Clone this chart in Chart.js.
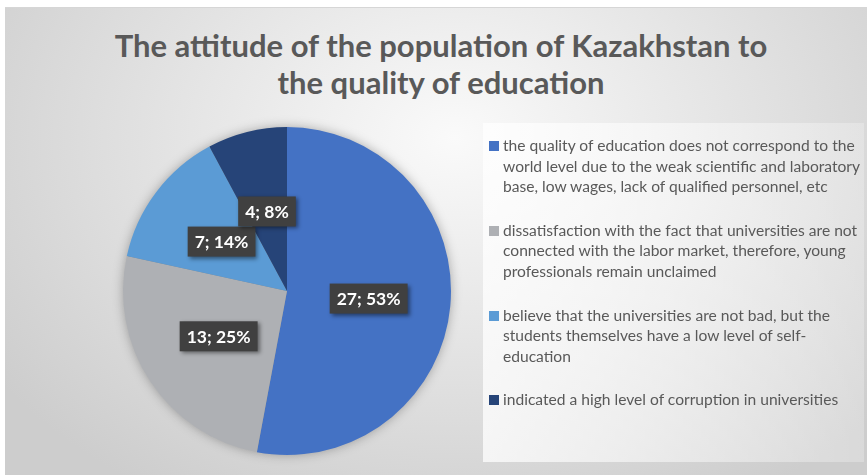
<!DOCTYPE html>
<html lang="en">
<head>
<meta charset="UTF-8">
<title>The attitude of the population of Kazakhstan to the quality of education</title>
<style>
    * { margin: 0; padding: 0; box-sizing: border-box; }
    body { width: 867px; height: 475px; background: #fff; overflow: hidden; font-family: 'Lato', sans-serif; }

    .frame {
        position: absolute; left: 5px; top: 7px; width: 862px; height: 468px;
        background: radial-gradient(ellipse 560px 420px at 450px 130px, #fafafa 0%, #e6e6e6 45%, #cdcdcd 100%);
        border-top: 1px solid #d6d6d6;
    }

    .title {
        position: absolute; left: 0; width: 882px; top: 27px;
        text-align: center; color: #595959;
        font-size: 31px; font-weight: bold; line-height: 37px;
    }

    .legend-box {
        position: absolute; left: 483px; top: 123px; width: 381px; height: 339px;
        background: linear-gradient(90deg, rgba(255,255,255,0.75), rgba(255,255,255,0.25));
    }

    .legend { position: absolute; left: 489px; top: 135px; }
    .legend .item { position: relative; padding-left: 14px; margin-bottom: 23px; }
    .legend .swatch { position: absolute; left: 0; top: 6px; width: 10px; height: 10px; }
    .legend .text { color: #595959; font-size: 15.6px; line-height: 20.6px; white-space: nowrap; }

    #chartWrap { position: absolute; left: 0; top: 0; width: 867px; height: 475px; }
</style>
</head>
<body>

<div class="frame"></div>
<div class="title">The attitude of the population of Kazakhstan to<br>the quality of education</div>
<div class="legend-box"></div>
<div id="chartWrap"><canvas id="pieChart"></canvas></div>
<div class="legend" id="legend"></div>

<script src="https://cdn.jsdelivr.net/npm/chart.js"></script>
<script>
    // categories (one entry per line of the legend text)
    const categories = [
        ['the quality of education does not correspond to the',
         'world level due to the weak scientific and laboratory',
         'base, low wages, lack of qualified personnel, etc'],
        ['dissatisfaction with the fact that universities are not',
         'connected with the labor market, therefore, young',
         'professionals remain unclaimed'],
        ['believe that the universities are not bad, but the',
         'students themselves have a low level of self-',
         'education'],
        ['indicated a high level of corruption in universities']
    ];
    const responses = [27, 13, 7, 4];
    const sliceColors = ['#4472C4', '#AEB0B4', '#5B9BD5', '#264478'];

    // legend on the right
    const legendEl = document.getElementById('legend');
    categories.forEach(function (lines, i) {
        const item = document.createElement('div');
        item.className = 'item';
        item.innerHTML = '<span class="swatch" style="background:' + sliceColors[i] + '"></span>' +
            '<div class="text">' + lines.join('<br>') + '</div>';
        legendEl.appendChild(item);
    });

    // soft shadow behind the pie
    const pieShadow = {
        id: 'pieShadow',
        beforeDatasetsDraw(chart) {
            const arc = chart.getDatasetMeta(0).data[0];
            if (!arc) return;
            const ctx = chart.ctx;
            ctx.save();
            ctx.shadowColor = 'rgba(0,0,0,0.35)';
            ctx.shadowBlur = 12;
            ctx.fillStyle = '#888';
            ctx.beginPath();
            ctx.arc(arc.x, arc.y, arc.outerRadius - 1, 0, Math.PI * 2);
            ctx.fill();
            ctx.restore();
        }
    };

    // "value; percent" labels in dark boxes
    const boxLabels = {
        id: 'boxLabels',
        afterDatasetsDraw(chart) {
            const ctx = chart.ctx;
            const data = chart.data.datasets[0].data;
            const total = data.reduce((a, b) => a + b, 0);
            ctx.save();
            ctx.font = 'bold 17.5px Lato';
            ctx.textAlign = 'center';
            ctx.textBaseline = 'middle';
            chart.getDatasetMeta(0).data.forEach(function (arc, i) {
                const pos = arc.tooltipPosition();
                const txt = data[i] + '; ' + Math.round(data[i] / total * 100) + '%';
                const w = ctx.measureText(txt).width + 14;
                const h = 30;
                ctx.shadowColor = 'rgba(0,0,0,0.45)';
                ctx.shadowBlur = 4;
                ctx.shadowOffsetX = 2;
                ctx.shadowOffsetY = 2;
                ctx.fillStyle = '#404040';
                ctx.fillRect(pos.x - w / 2, pos.y - h / 2, w, h);
                ctx.shadowColor = 'transparent';
                ctx.fillStyle = '#ffffff';
                ctx.fillText(txt, pos.x, pos.y + 1);
            });
            ctx.restore();
        }
    };

    new Chart(document.getElementById('pieChart'), {
        type: 'pie',
        data: {
            labels: categories,
            datasets: [{
                data: responses,
                backgroundColor: sliceColors,
                borderWidth: 0
            }]
        },
        options: {
            responsive: true,
            maintainAspectRatio: false,
            animation: false,
            layout: { padding: { left: 123, top: 127, right: 416, bottom: 20 } },
            plugins: {
                legend: { display: false },
                tooltip: { enabled: false }
            }
        },
        plugins: [pieShadow, boxLabels]
    });
</script>

</body>
</html>
